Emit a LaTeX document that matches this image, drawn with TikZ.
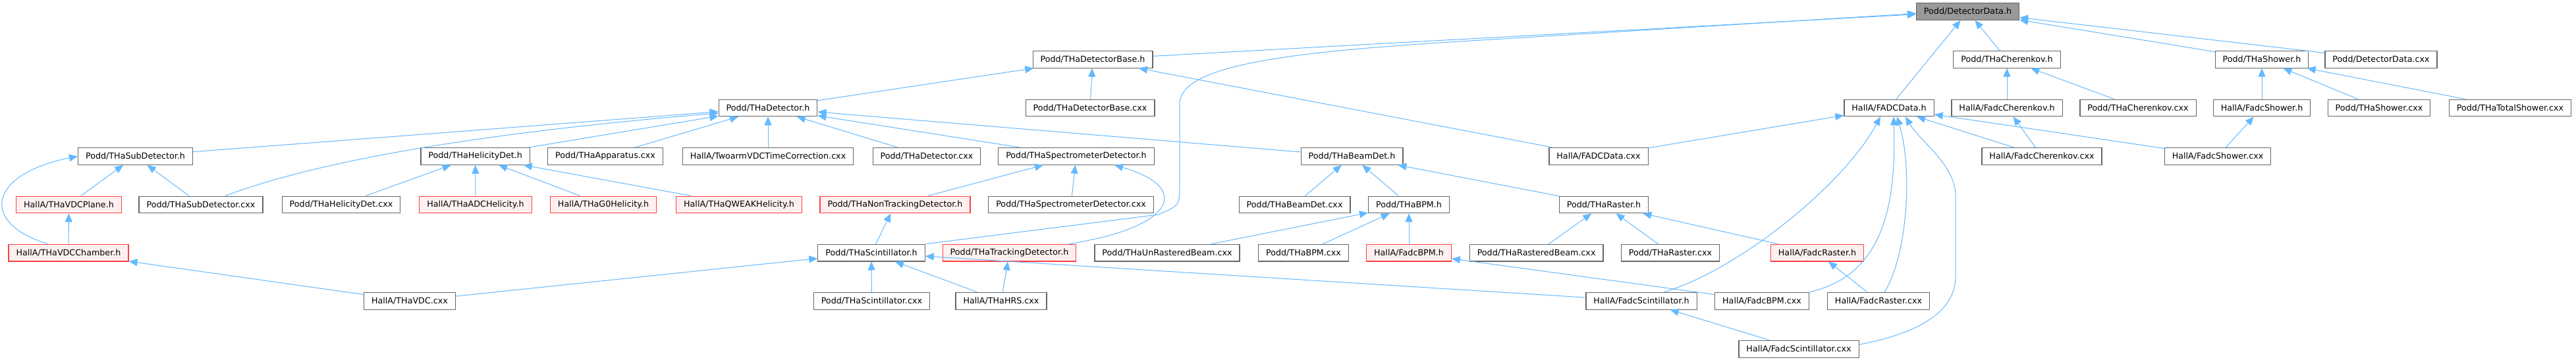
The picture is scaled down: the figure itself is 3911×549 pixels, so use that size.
\documentclass[tikz,border=0pt]{standalone}
\usepackage{fontspec}
\setmainfont{DejaVu Sans}
\usetikzlibrary{arrows.meta}
\definecolor{dxedge}{RGB}{99,184,255}
\definecolor{dxgray}{RGB}{102,102,102}
\definecolor{dxroot}{RGB}{153,153,153}
\definecolor{dxred}{RGB}{255,64,64}
\definecolor{dxpink}{RGB}{255,240,240}

\begin{document}
\begin{tikzpicture}[x=1pt,y=-1pt,
  filebox/.style={draw=dxgray,fill=white,line width=1.2pt,minimum height=25.6pt,
    inner xsep=11.5pt,inner ysep=2pt,font=\fontsize{12.7}{15}\selectfont},
  redbox/.style={filebox,draw=dxred,fill=dxpink},
  rootbox/.style={filebox,fill=dxroot},
  dep/.style={draw=dxedge,line width=1pt,-{Triangle[length=13pt,width=11pt]}}]
  \useasboundingbox (0,0) rectangle (3911,549);
  \node[rootbox] (dd) at (2987.5,17.5) {Podd/DetectorData.h};
  \node[filebox] (dbase) at (1659,90.3) {Podd/THaDetectorBase.h};
  \node[filebox] (cher) at (3047,90.3) {Podd/THaCherenkov.h};
  \node[filebox] (shw) at (3434,90.3) {Podd/THaShower.h};
  \node[filebox] (ddcxx) at (3615,90.3) {Podd/DetectorData.cxx};
  \node[filebox] (det) at (1166,163.9) {Podd/THaDetector.h};
  \node[filebox] (dbasecxx) at (1655,163.9) {Podd/THaDetectorBase.cxx};
  \node[filebox] (fadc) at (2868,163.9) {HallA/FADCData.h};
  \node[filebox] (fcher) at (3047,163.9) {HallA/FadcCherenkov.h};
  \node[filebox] (chercxx) at (3246,163.9) {Podd/THaCherenkov.cxx};
  \node[filebox] (fshw) at (3434,163.9) {HallA/FadcShower.h};
  \node[filebox] (shwcxx) at (3612,163.9) {Podd/THaShower.cxx};
  \node[filebox] (tshwcxx) at (3811,163.9) {Podd/THaTotalShower.cxx};
  \node[filebox] (sub) at (205.5,237.4) {Podd/THaSubDetector.h};
  \node[filebox] (hel) at (721.7,237.4) {Podd/THaHelicityDet.h};
  \node[filebox] (app) at (919,237.4) {Podd/THaApparatus.cxx};
  \node[filebox] (twoarm) at (1166,237.4) {HallA/TwoarmVDCTimeCorrection.cxx};
  \node[filebox] (detcxx) at (1407,237.4) {Podd/THaDetector.cxx};
  \node[filebox] (spec) at (1634,237.4) {Podd/THaSpectrometerDetector.h};
  \node[filebox] (beam) at (2052.6,237.4) {Podd/THaBeamDet.h};
  \node[filebox] (fadccxx) at (2427,237.4) {HallA/FADCData.cxx};
  \node[filebox] (fchercxx) at (3100,237.4) {HallA/FadcCherenkov.cxx};
  \node[filebox] (fshwcxx) at (3367,237.4) {HallA/FadcShower.cxx};
  \node[redbox] (vdcpl) at (104.5,310.9) {HallA/THaVDCPlane.h};
  \node[filebox] (subcxx) at (305,310.9) {Podd/THaSubDetector.cxx};
  \node[filebox] (helcxx) at (518,310.9) {Podd/THaHelicityDet.cxx};
  \node[redbox] (adchel) at (722,310.9) {HallA/THaADCHelicity.h};
  \node[redbox] (g0hel) at (916,310.9) {HallA/THaG0Helicity.h};
  \node[redbox] (qwhel) at (1122,310.9) {HallA/THaQWEAKHelicity.h};
  \node[redbox] (ntrk) at (1359,310.9) {Podd/THaNonTrackingDetector.h};
  \node[filebox] (speccxx) at (1626,310.9) {Podd/THaSpectrometerDetector.cxx};
  \node[filebox] (beamcxx) at (1965.6,310.9) {Podd/THaBeamDet.cxx};
  \node[filebox] (bpm) at (2139,310.9) {Podd/THaBPM.h};
  \node[filebox] (rast) at (2435,310.9) {Podd/THaRaster.h};
  \node[redbox] (vdcch) at (104,384.1) {HallA/THaVDCChamber.h};
  \node[filebox] (scin) at (1323,384.1) {Podd/THaScintillator.h};
  \node[redbox] (trk) at (1532.5,384.1) {Podd/THaTrackingDetector.h};
  \node[filebox] (unr) at (1772,384.1) {Podd/THaUnRasteredBeam.cxx};
  \node[filebox] (bpmcxx) at (1979,384.1) {Podd/THaBPM.cxx};
  \node[redbox] (fbpm) at (2139,384.1) {HallA/FadcBPM.h};
  \node[filebox] (rastbcxx) at (2332.6,384.1) {Podd/THaRasteredBeam.cxx};
  \node[filebox] (rastcxx) at (2536,384.1) {Podd/THaRaster.cxx};
  \node[redbox] (frast) at (2759,384.1) {HallA/FadcRaster.h};
  \node[filebox] (vdccxx) at (622,457.3) {HallA/THaVDC.cxx};
  \node[filebox] (scincxx) at (1323.4,457.3) {Podd/THaScintillator.cxx};
  \node[filebox] (hrs) at (1520,457.3) {HallA/THaHRS.cxx};
  \node[filebox] (fscin) at (2492,457.3) {HallA/FadcScintillator.h};
  \node[filebox] (fbpmcxx) at (2675,457.3) {HallA/FadcBPM.cxx};
  \node[filebox] (frastcxx) at (2852,457.3) {HallA/FadcRaster.cxx};
  \node[filebox] (fscincxx) at (2731,530.5) {HallA/FadcScintillator.cxx};

  \draw[dep] (dbase) -- (dd);
  \draw[dep] (fadc) -- (dd);
  \draw[dep] (cher) -- (dd);
  \draw[dep] (shw) -- (dd);
  \draw[dep] (ddcxx) -- (dd);
  \draw[dep] (scin.north east) -- (1759,326) .. controls (1791,312) .. (1791,280)
    -- (1791,158) .. controls (1791,100) and (1950,80) .. (2200,64) -- ([yshift=-3pt]dd.west);
  \draw[dep] (det) -- (dbase);
  \draw[dep] (dbasecxx) -- (dbase);
  \draw[dep] (fadccxx) -- (dbase);
  \draw[dep] (sub) -- (det);
  \draw[dep] ([xshift=37pt]subcxx.north) .. controls (487,243) and (737,201) .. ([yshift=-8pt]det.west);
  \draw[dep] (hel) -- (det);
  \draw[dep] (app) -- (det);
  \draw[dep] (twoarm) -- (det);
  \draw[dep] (detcxx) -- (det);
  \draw[dep] (spec) -- (det);
  \draw[dep] (beam) -- (det);
  \draw[dep] (vdcpl) -- (sub);
  \draw[dep] (subcxx) -- (sub);
  \draw[dep] ([xshift=-31pt]vdcch.north) .. controls (-30,340) and (-20,265) .. (sub.west);
  \draw[dep] (vdcch) -- (vdcpl);
  \draw[dep] (vdccxx) -- (vdcch);
  \draw[dep] (helcxx) -- (hel);
  \draw[dep] (adchel) -- (hel);
  \draw[dep] (g0hel) -- (hel);
  \draw[dep] (qwhel) -- (hel);
  \draw[dep] (ntrk) -- (spec);
  \draw[dep] (speccxx) -- (spec);
  \draw[dep] ([xshift=90pt]trk.north) .. controls (1785,345) and (1810,285) .. ([xshift=58pt]spec.south);
  \draw[dep] (scin) -- (ntrk);
  \draw[dep] (vdccxx) -- (scin);
  \draw[dep] (scincxx) -- (scin);
  \draw[dep] (hrs) -- (scin);
  \draw[dep] (fscin) -- (scin);
  \draw[dep] (hrs) -- (trk);
  \draw[dep] (beamcxx) -- (beam);
  \draw[dep] (bpm) -- (beam);
  \draw[dep] (rast) -- (beam);
  \draw[dep] (unr) -- (bpm);
  \draw[dep] (bpmcxx) -- (bpm);
  \draw[dep] (fbpm) -- (bpm);
  \draw[dep] (rastbcxx) -- (rast);
  \draw[dep] (rastcxx) -- (rast);
  \draw[dep] (frast) -- (rast);
  \draw[dep] (fbpmcxx) -- (fbpm);
  \draw[dep] (frastcxx) -- (frast);
  \draw[dep] (fscincxx) -- (fscin);
  \draw[dep] (fadccxx) -- (fadc);
  \draw[dep] ([xshift=34pt]fscin.north) .. controls (2640,410) and (2800,280) .. ([xshift=-13pt]fadc.south);
  \draw[dep] (fbpmcxx.north east) .. controls (2850,420) and (2880,330) .. ([xshift=7pt]fadc.south);
  \draw[dep] ([xshift=9pt]frastcxx.north) .. controls (2895,390) and (2905,260) .. ([xshift=12pt]fadc.south);
  \draw[dep] ([yshift=7pt]fscincxx.east) .. controls (2920,505) and (2969,470) .. (2969,420)
    -- (2969,298) .. controls (2969,250) and (2915,215) .. ([xshift=25pt]fadc.south);
  \draw[dep] (fchercxx) -- (fadc);
  \draw[dep] (fshwcxx) -- (fadc);
  \draw[dep] (fcher) -- (cher);
  \draw[dep] (chercxx) -- (cher);
  \draw[dep] (fchercxx) -- (fcher);
  \draw[dep] (fshw) -- (shw);
  \draw[dep] (shwcxx) -- (shw);
  \draw[dep] (tshwcxx) -- (shw);
  \draw[dep] (fshwcxx) -- (fshw);
\end{tikzpicture}
\end{document}
